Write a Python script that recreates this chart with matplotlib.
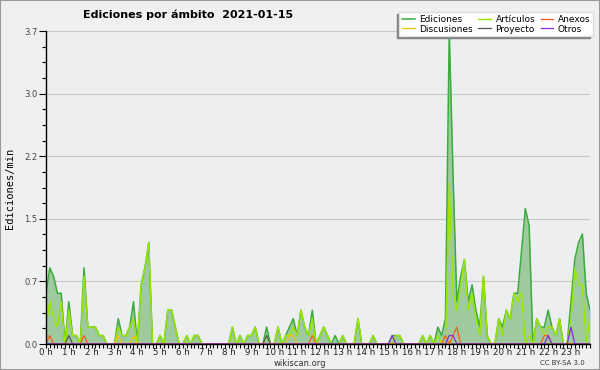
import numpy as np
import matplotlib.pyplot as plt
from matplotlib.patches import Rectangle

# edits per minute, one value per 10-minute bin (144 bins, 00:00 .. 23:50)
ediciones = [
    0.6, 0.9, 0.8, 0.6, 0.6, 0.0, 0.5, 0.1, 0.1, 0.0,
    0.9, 0.2, 0.2, 0.2, 0.1, 0.1, 0.0, 0.0, 0.0, 0.3,
    0.1, 0.1, 0.2, 0.5, 0.0, 0.7, 0.9, 1.2, 0.0, 0.0,
    0.1, 0.0, 0.4, 0.4, 0.2, 0.0, 0.0, 0.1, 0.0, 0.1,
    0.1, 0.0, 0.0, 0.0, 0.0, 0.0, 0.0, 0.0, 0.0, 0.2,
    0.0, 0.1, 0.0, 0.1, 0.1, 0.2, 0.0, 0.0, 0.2, 0.0,
    0.0, 0.2, 0.0, 0.1, 0.2, 0.3, 0.1, 0.4, 0.2, 0.1,
    0.4, 0.0, 0.1, 0.2, 0.1, 0.0, 0.1, 0.0, 0.1, 0.0,
    0.0, 0.0, 0.3, 0.0, 0.0, 0.0, 0.1, 0.0, 0.0, 0.0,
    0.0, 0.1, 0.1, 0.1, 0.0, 0.0, 0.0, 0.0, 0.0, 0.1,
    0.0, 0.1, 0.0, 0.2, 0.1, 0.3, 3.7, 2.0, 0.5, 0.8,
    1.0, 0.5, 0.7, 0.4, 0.2, 0.8, 0.1, 0.0, 0.0, 0.3,
    0.2, 0.4, 0.3, 0.6, 0.6, 1.1, 1.6, 1.4, 0.0, 0.3,
    0.2, 0.2, 0.4, 0.2, 0.1, 0.3, 0.0, 0.0, 0.5, 1.0,
    1.2, 1.3, 0.6, 0.4,
]
articulos = [
    0.2, 0.5, 0.3, 0.2, 0.5, 0.0, 0.4, 0.1, 0.1, 0.0,
    0.8, 0.2, 0.2, 0.2, 0.1, 0.1, 0.0, 0.0, 0.0, 0.2,
    0.1, 0.1, 0.2, 0.3, 0.0, 0.7, 0.9, 1.2, 0.0, 0.0,
    0.1, 0.0, 0.4, 0.4, 0.2, 0.0, 0.0, 0.1, 0.0, 0.1,
    0.1, 0.0, 0.0, 0.0, 0.0, 0.0, 0.0, 0.0, 0.0, 0.2,
    0.0, 0.1, 0.0, 0.1, 0.1, 0.2, 0.0, 0.0, 0.1, 0.0,
    0.0, 0.2, 0.0, 0.1, 0.1, 0.2, 0.1, 0.4, 0.2, 0.1,
    0.3, 0.0, 0.1, 0.2, 0.1, 0.0, 0.0, 0.0, 0.1, 0.0,
    0.0, 0.0, 0.3, 0.0, 0.0, 0.0, 0.1, 0.0, 0.0, 0.0,
    0.0, 0.0, 0.1, 0.1, 0.0, 0.0, 0.0, 0.0, 0.0, 0.1,
    0.0, 0.1, 0.0, 0.1, 0.0, 0.0, 1.9, 0.6, 0.4, 0.7,
    1.0, 0.4, 0.6, 0.3, 0.1, 0.8, 0.1, 0.0, 0.0, 0.3,
    0.1, 0.4, 0.3, 0.6, 0.5, 0.6, 0.0, 0.1, 0.0, 0.3,
    0.2, 0.1, 0.2, 0.2, 0.1, 0.3, 0.0, 0.0, 0.3, 0.9,
    0.7, 0.7, 0.0, 0.3,
]

# sparse series: bin index and value
discusiones_bins = [19, 23, 64, 65]
discusiones_vals = [0.1, 0.1, 0.1, 0.1]
proyecto_bins = [6, 58]
proyecto_vals = [0.1, 0.1]
anexos_bins = [1, 10, 70, 105, 107, 108, 131, 132]
anexos_vals = [0.1, 0.1, 0.1, 0.1, 0.1, 0.2, 0.1, 0.1]
otros_bins = [91, 106, 107, 132, 138]
otros_vals = [0.1, 0.1, 0.1, 0.1, 0.2]

hour_labels = [f"{h} h" for h in range(24)]
y_ticks = [0, 0.74, 1.48, 2.22, 2.96, 3.7]
y_labels = ["0.0", "0.7", "1.5", "2.2", "3.0", "3.7"]

n = len(ediciones)
x = np.arange(n) / 6  # hours


def expand(bins, vals):
    s = np.zeros(n)
    s[bins] = vals
    return s


fig = plt.figure(figsize=(6, 3.7), dpi=100, facecolor="#f0f0f0")
ax = fig.add_axes([46 / 600, 1 - 344 / 370, 544 / 600, 313 / 370])
ax.set_facecolor("#eceef0")

ax.fill_between(x, ediciones, color="#9fca9f", lw=0)
l_ed, = ax.plot(x, ediciones, color="#3bab3b", lw=1.1, label="Ediciones")
l_ar, = ax.plot(x, articulos, color="#9be600", lw=1.0, label="Artículos")
l_di, = ax.plot(x, expand(discusiones_bins, discusiones_vals), color="#f5c400", lw=0.9, label="Discusiones")
l_pr, = ax.plot(x, expand(proyecto_bins, proyecto_vals), color="#555555", lw=0.9, label="Proyecto")
l_an, = ax.plot(x, expand(anexos_bins, anexos_vals), color="#ff5a1e", lw=0.9, label="Anexos")
l_ot, = ax.plot(x, expand(otros_bins, otros_vals), color="#8a2be2", lw=0.9, label="Otros")

ax.set_xlim(0, (n - 1) / 6)
ax.set_ylim(0, 3.7)
ax.set_xticks(range(24), hour_labels)
ax.set_xticks(np.arange(n) / 6, minor=True)
ax.set_yticks(y_ticks, y_labels)
ax.set_yticks(np.arange(0, 3.71, 0.185), minor=True)
ax.yaxis.grid(True, color="#c8c8c8", lw=0.8)
ax.set_axisbelow(True)

for s in ["top", "right"]:
    ax.spines[s].set_visible(False)
for s in ["left", "bottom"]:
    ax.spines[s].set_color("black")
    ax.spines[s].set_linewidth(1.0)

ax.tick_params(axis="x", which="both", length=3, width=0.8, direction="out",
               labelsize=6.2, pad=0, labelcolor="#222222")
ax.tick_params(axis="y", which="major", length=5, width=0.8, labelsize=6,
               pad=1, labelcolor="#444444")
ax.tick_params(axis="y", which="minor", length=3, width=0.8)

fig.text(188 / 600, 1 - 15 / 370, "Ediciones por ámbito  2021-01-15",
         ha="center", va="center", fontsize=8, fontweight="bold")
fig.text(10 / 600, 1 - 188 / 370, "Ediciones/min", rotation=90,
         ha="center", va="center", fontsize=7.5, family="DejaVu Sans Mono")
fig.text(300 / 600, 1 - 363 / 370, "wikiscan.org", ha="center", va="center",
         fontsize=6, color="#333333")
fig.text(562 / 600, 1 - 363 / 370, "CC BY-SA 3.0", ha="center", va="center",
         fontsize=5, color="#333333")

fig.legend(handles=[l_ed, l_di, l_ar, l_pr, l_an, l_ot], ncol=3,
           loc="upper right", bbox_to_anchor=(593 / 600, 1 - 12 / 370),
           fontsize=6.5, frameon=True, fancybox=False, facecolor="white",
           edgecolor="#dddddd", framealpha=1, handlelength=1.4,
           handletextpad=0.5, columnspacing=0.6, labelspacing=0.1,
           borderpad=0.3, borderaxespad=0,
           shadow={"ox": -2, "oy": -1.5, "color": "#808080", "alpha": 1})

fig.add_artist(Rectangle((0, 0), 1, 1, transform=fig.transFigure, fill=False,
                         edgecolor="#999999", lw=1.5))

fig.savefig("out.png", dpi=100, facecolor=fig.get_facecolor())
